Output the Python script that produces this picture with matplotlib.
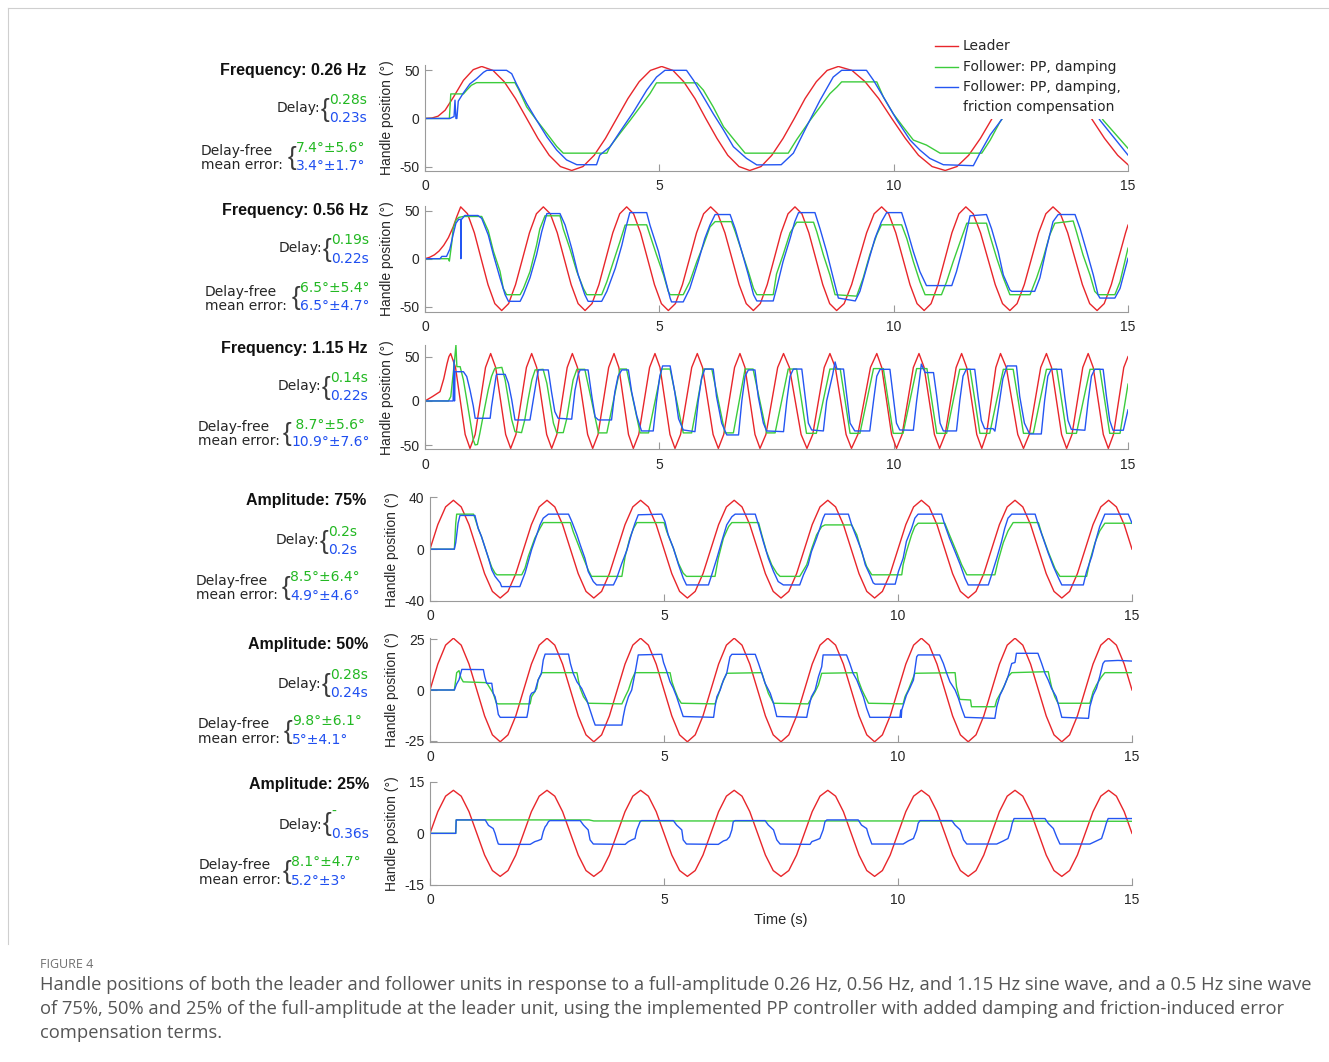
import numpy as np
import matplotlib

matplotlib.use("Agg")
import matplotlib.pyplot as plt
from matplotlib.lines import Line2D
from matplotlib.patches import Rectangle

plt.rcParams["axes.unicode_minus"] = False

W, H = 1329, 1062
RED = "#e8262b"
GREEN = "#3ccc3c"
BLUE = "#2456f2"
TXT_GREEN = "#22b822"
TXT_BLUE = "#1f4ff0"

# ---------------- panel 1 : 0.26 Hz ----------------
P1_LEADER_T = [0, 0.15, 0.28, 0.43, 0.61, 0.82, 1.03, 1.21, 1.45, 1.69, 1.93, 2.17, 2.41, 2.65, 2.89, 3.13,
               3.37, 3.61, 3.85, 4.09, 4.33, 4.57, 4.81, 5.05, 5.29, 5.52, 5.76, 5.99, 6.23, 6.46, 6.70, 6.93,
               7.17, 7.40, 7.64, 7.88, 8.11, 8.35, 8.58, 8.82, 9.11, 9.39, 9.68, 9.96, 10.25, 10.53, 10.82, 11.10,
               11.35, 11.60, 11.85, 12.10, 12.35, 12.60, 12.85, 13.10, 13.38, 13.66, 13.94, 14.22, 14.50, 14.78, 15.0]
P1_LEADER_V = [0, 0.5, 2.4, 8.6, 22.4, 39.6, 50.7, 54, 49.9, 38.2, 20.7, 0, -20.7, -38.2, -49.9, -54,
               -49.9, -38.2, -20.7, 0, 20.7, 38.2, 49.9, 54, 49.9, 38.2, 20.7, 0, -20.7, -38.2, -49.9, -54,
               -49.9, -38.2, -20.7, 0, 20.7, 38.2, 49.9, 54, 49.9, 38.2, 20.7, 0, -20.7, -38.2, -49.9, -54,
               -49.9, -38.2, -20.7, 0, 20.7, 38.2, 49.9, 54, 49.9, 38.2, 20.7, 0, -20.7, -38.2, -48]
P1_GREEN_T = [0, 0.52, 0.55, 0.82, 0.89, 0.99, 1.10, 1.92, 2.00, 2.17, 2.38, 2.60, 2.81, 2.95, 3.88, 3.95,
              4.16, 4.38, 4.59, 4.80, 4.94, 5.80, 5.94, 6.15, 6.37, 6.66, 6.83, 7.75, 7.93, 8.22, 8.43, 8.64,
              8.79, 8.89, 9.64, 9.78, 9.99, 10.20, 10.42, 10.70, 10.99, 11.88, 12.06, 12.27, 12.50, 12.80,
              13.00, 13.90, 14.20, 14.47, 15.0]
P1_GREEN_V = [0, 0, 25.5, 25.5, 29.4, 34.5, 37.2, 37.2, 30, 12, -1.7, -15.5, -29, -36, -36, -29,
              -15.5, -1.7, 12, 25.8, 37, 37, 29.4, 12, -8.6, -26, -36, -36, -22, -1.7, 12, 25.8,
              32.7, 38, 38, 22.4, 5, -8.6, -22.4, -27.6, -36, -36, -22.4, -3.4, 12, 30,
              38, 38, 20, -1.7, -31]
P1_BLUE_T = [0, 0.53, 0.62, 0.64, 0.66, 0.68, 0.71, 0.82, 0.96, 1.10, 1.25, 1.32, 1.74, 1.85, 1.95, 2.17,
             2.38, 2.60, 2.81, 3.02, 3.24, 3.66, 3.73, 3.95, 4.16, 4.45, 4.73, 4.94, 5.12, 5.58, 5.73, 5.94,
             6.15, 6.37, 6.58, 6.86, 7.08, 7.60, 7.86, 8.14, 8.43, 8.71, 8.89, 9.42, 9.57, 9.78, 10.07, 10.35,
             10.56, 10.77, 11.06, 11.70, 11.84, 12.06, 12.27, 12.60, 12.90, 13.10, 13.70, 14.00, 14.40, 15.0]
P1_BLUE_V = [0, 0, 2, 19, 0, 0, 18, 26.6, 36, 41.3, 48, 50, 50, 46.5, 36, 15.5,
             -1.7, -19, -32.8, -43, -48, -48, -38, -29.3, -13.8, 6.9, 29.3, 43, 50, 50, 39.6, 22.4,
             5, -12, -29.3, -41.4, -48.2, -48, -36, -8.6, 19, 43, 50, 50, 39.6, 22.4, -1.7, -22.4,
             -32.8, -41.4, -48, -49, -36, -17, -3.4, 20, 42, 50, 50, 30, -1.7, -38]

# ---------------- panel 2 : 0.56 Hz ----------------
P2_LEADER_T = [0, 0.1, 0.2, 0.3, 0.4, 0.5, 0.6, 0.68, 0.761,
               0.907, 1.053, 1.198, 1.344, 1.490, 1.636, 1.784, 1.932, 2.081, 2.229, 2.377, 2.525,
               2.673, 2.822, 2.970, 3.118, 3.267, 3.415, 3.563, 3.711, 3.859, 4.007, 4.155, 4.303,
               4.451, 4.599, 4.748, 4.896, 5.044, 5.192, 5.343, 5.493, 5.644, 5.794, 5.945, 6.095,
               6.247, 6.399, 6.551, 6.702, 6.854, 7.006, 7.154, 7.302, 7.450, 7.598, 7.746, 7.894,
               8.042, 8.190, 8.339, 8.487, 8.635, 8.783, 8.943, 9.103, 9.263, 9.423, 9.583, 9.743,
               9.894, 10.045, 10.197, 10.348, 10.499, 10.65, 10.798, 10.947, 11.095, 11.243, 11.392, 11.54,
               11.697, 11.853, 12.01, 12.167, 12.323, 12.48, 12.633, 12.787, 12.94, 13.093, 13.247, 13.40,
               13.557, 13.713, 13.87, 14.027, 14.183, 14.34, 14.492, 14.644, 14.796, 14.948, 15.0]
P2_LEADER_V = [0, 1.5, 4, 8, 14, 22, 33, 44, 54,
               46.8, 27, 0, -27, -46.8, -54, -46.8, -27, 0, 27, 46.8, 54,
               46.8, 27, 0, -27, -46.8, -54, -46.8, -27, 0, 27, 46.8, 54,
               46.8, 27, 0, -27, -46.8, -54, -46.8, -27, 0, 27, 46.8, 54,
               46.8, 27, 0, -27, -46.8, -54, -46.8, -27, 0, 27, 46.8, 54,
               46.8, 27, 0, -27, -46.8, -54, -46.8, -27, 0, 27, 46.8, 54,
               46.8, 27, 0, -27, -46.8, -54, -46.8, -27, 0, 27, 46.8, 54,
               46.8, 27, 0, -27, -46.8, -54, -46.8, -27, 0, 27, 46.8, 54,
               46.8, 27, 0, -27, -46.8, -54, -46.8, -27, 0, 27, 35]
P2_GREEN_T = [0, 0.50, 0.52, 0.57, 0.60, 0.66, 0.72, 0.82, 1.21, 1.35, 1.46, 1.60, 1.67, 1.74, 2.03, 2.10,
              2.24, 2.38, 2.45, 2.56, 2.88, 2.95, 3.09, 3.24, 3.38, 3.45, 3.77, 3.88, 4.02, 4.16, 4.27, 4.34,
              4.73, 4.80, 4.94, 5.09, 5.19, 5.23, 5.51, 5.65, 5.80, 5.94, 6.08, 6.19, 6.54, 6.62, 6.76, 6.90,
              7.01, 7.08, 7.43, 7.50, 7.64, 7.79, 7.93, 8.29, 8.36, 8.50, 8.64, 8.75, 9.21, 9.35, 9.49, 9.64,
              9.74, 10.17, 10.28, 10.42, 10.56, 10.67, 11.02, 11.13, 11.27, 11.42, 11.56, 11.98, 12.05, 12.20,
              12.34, 12.48, 12.91, 13.05, 13.19, 13.33, 13.44, 13.83, 13.90, 14.04, 14.19, 14.29, 14.36, 14.72,
              14.83, 15.0]
P2_GREEN_V = [0, 0, -2.5, 16, 31, 40, 43, 44, 44, 29, 7.7, -13, -31, -37.5, -37.5, -31,
              -13.5, 14, 31, 44.7, 44.7, 31, 10.8, -13.5, -31, -37.5, -37.5, -24, -3, 17.8, 35, 35.3,
              35.3, 24.7, 4, -17, -34, -37.5, -37.5, -24, -3, 14, 33, 38.6, 38.6, 28, 7.3, -13.5,
              -31, -37.5, -37.5, -16, 4, 27, 38, 38, 28, 4, -17, -37.5, -39, -20, 4, 25,
              35.3, 35.3, 21, -3, -24, -37.5, -37.5, -24, -3, 17.8, 37, 37, 24.7, 0.4,
              -20, -37.5, -37.5, -20, 0.4, 24.7, 37, 39.3, 28, 4, -17, -34, -37.5, -37.5,
              -24, 11]
P2_BLUE_T = [0, 0.32, 0.36, 0.46, 0.53, 0.60, 0.66, 0.72, 0.76, 0.765, 0.77, 0.78, 0.85, 1.13, 1.21, 1.35,
             1.46, 1.60, 1.71, 1.78, 2.03, 2.10, 2.24, 2.38, 2.49, 2.60, 2.88, 2.99, 3.13, 3.27, 3.41, 3.48,
             3.77, 3.88, 4.06, 4.20, 4.30, 4.37, 4.73, 4.80, 4.98, 5.12, 5.23, 5.26, 5.51, 5.65, 5.83, 5.97,
             6.08, 6.19, 6.51, 6.62, 6.76, 6.90, 7.01, 7.08, 7.43, 7.50, 7.64, 7.79, 7.89, 7.97, 8.32, 8.43,
             8.57, 8.71, 8.82, 9.18, 9.28, 9.46, 9.60, 9.74, 9.85, 10.17, 10.28, 10.42, 10.56, 10.70, 11.24,
             11.34, 11.49, 11.63, 11.98, 12.09, 12.23, 12.34, 12.48, 12.52, 13.01, 13.12, 13.26, 13.40, 13.51,
             13.87, 13.98, 14.12, 14.26, 14.36, 14.40, 14.72, 14.83, 15.0]
P2_BLUE_V = [0, 0, 2.4, 2.4, 10, 25, 37, 41, 41, 0, 41, 41, 45, 45, 42, 24.7,
             4, -20, -37.5, -44.4, -44.4, -37.5, -20, 4, 28, 47, 47, 35, 10.8, -17, -37.5, -44.4,
             -44.4, -34, -10, 14, 35, 48, 48, 35, 7.7, -20, -41, -45, -45, -31, -3, 21,
             35, 46, 46, 31, 7.3, -17, -37.5, -44, -44, -31, -3, 21, 38.6, 48, 48, 31,
             7.3, -20, -41, -44, -34, -3, 21, 38.6, 48, 48, 31, 7.3, -13.5, -28, -28,
             -13.5, 14, 44.7, 46, 31, 7.3, -17, -32.6, -34, -34, -20, 11, 38.6,
             46, 46, 31, 7.3, -17, -37.5, -41, -41, -31, 0.4]

# ---------------- panel 3 : 1.15 Hz ----------------
P3_LEADER_T = [0, 0.16, 0.32, 0.40, 0.47, 0.51, 0.548,
               0.651, 0.754, 0.857, 0.96, 1.070, 1.181, 1.291, 1.401, 1.508, 1.615, 1.721, 1.828,
               1.940, 2.052, 2.164, 2.276, 2.383, 2.490, 2.596, 2.703, 2.813, 2.924, 3.034, 3.144,
               3.253, 3.361, 3.470, 3.578, 3.692, 3.806, 3.919, 4.033, 4.136, 4.239, 4.342, 4.445,
               4.561, 4.676, 4.792, 4.907, 5.014, 5.121, 5.227, 5.334, 5.453, 5.572, 5.691, 5.81,
               5.922, 6.035, 6.147, 6.259, 6.374, 6.490, 6.605, 6.72, 6.827, 6.934, 7.041, 7.148,
               7.274, 7.399, 7.525, 7.65, 7.775, 7.9, 8.025, 8.15, 8.273, 8.395, 8.518, 8.64,
               8.755, 8.87, 8.985, 9.10, 9.235, 9.37, 9.505, 9.64, 9.745, 9.85, 9.955, 10.06,
               10.18, 10.30, 10.42, 10.54, 10.65, 10.76, 10.87, 10.98, 11.098, 11.215, 11.333, 11.45,
               11.558, 11.665, 11.773, 11.88, 11.98, 12.08, 12.18, 12.28, 12.403, 12.525, 12.648, 12.77,
               12.893, 13.015, 13.138, 13.26, 13.368, 13.475, 13.583, 13.69, 13.805, 13.92, 14.035, 14.15,
               14.258, 14.365, 14.473, 14.58, 14.69, 14.8, 14.91, 15.0]
P3_LEADER_V = [0, 5, 10.5, 25, 42, 50, 53.5,
               37.8, 0, -37.8, -53.5, -37.8, 0, 37.8, 53.5, 37.8, 0, -37.8, -53.5,
               -37.8, 0, 37.8, 53.5, 37.8, 0, -37.8, -53.5, -37.8, 0, 37.8, 53.5,
               37.8, 0, -37.8, -53.5, -37.8, 0, 37.8, 53.5, 37.8, 0, -37.8, -53.5,
               -37.8, 0, 37.8, 53.5, 37.8, 0, -37.8, -53.5, -37.8, 0, 37.8, 53.5,
               37.8, 0, -37.8, -53.5, -37.8, 0, 37.8, 53.5, 37.8, 0, -37.8, -53.5,
               -37.8, 0, 37.8, 53.5, 37.8, 0, -37.8, -53.5, -37.8, 0, 37.8, 53.5,
               37.8, 0, -37.8, -53.5, -37.8, 0, 37.8, 53.5, 37.8, 0, -37.8, -53.5,
               -37.8, 0, 37.8, 53.5, 37.8, 0, -37.8, -53.5, -37.8, 0, 37.8, 53.5,
               37.8, 0, -37.8, -53.5, -37.8, 0, 37.8, 53.5, 37.8, 0, -37.8, -53.5,
               -37.8, 0, 37.8, 53.5, 37.8, 0, -37.8, -53.5, -37.8, 0, 37.8, 53.5,
               37.8, 0, -37.8, -53.5, -37.8, 0, 37.8, 50]
P3_GREEN_T = [0, 0.50, 0.55, 0.62, 0.66, 0.68, 0.75, 0.82, 0.89, 0.96, 1.03, 1.07, 1.12, 1.17, 1.28, 1.35,
              1.42, 1.49, 1.64, 1.71, 1.78, 1.85, 1.92, 2.06, 2.13, 2.20, 2.28, 2.35, 2.52, 2.60, 2.67, 2.74,
              2.81, 2.95, 3.02, 3.09, 3.16, 3.24, 3.41,
              3.555, 3.70, 3.88, 4.02, 4.16, 4.30, 4.445, 4.59, 4.77, 4.91, 5.05, 5.23,
              5.37, 5.51, 5.69, 5.815, 5.94, 6.12, 6.26, 6.40, 6.58, 6.705, 6.83, 7.0,
              7.145, 7.29, 7.47, 7.61, 7.75, 7.93, 8.035, 8.14, 8.35, 8.495, 8.64, 8.86,
              8.965, 9.07, 9.28, 9.425, 9.57, 9.78, 9.885, 9.99, 10.2, 10.345, 10.49, 10.71,
              10.815, 10.92, 11.13, 11.27, 11.41, 11.63, 11.735, 11.84, 12.05, 12.195, 12.34, 12.55,
              12.66, 12.77, 12.98, 13.12, 13.26, 13.48, 13.585, 13.69, 13.9, 14.045, 14.19, 14.4,
              14.505, 14.61, 14.83, 15.0]
P3_GREEN_V = [0, 0, 5, 40, 63, 38.7, 38.7, 23.7, 1.5, -21, -44, -49.6, -49, -36.5, -6, 12.8,
              27.8, 36.8, 37.9, 23.7, 1.5, -21, -34.6, -35.7, -21, 1.5, 23.7, 35, 35.7, 20, -2.6, -25,
              -35.7, -35.7, -21, 1.5, 23.7, 35.7, 35.7,
              0, -36, -36, 0, 36, 36, 0, -36, -36, 0, 36, 36,
              0, -36, -36, 0, 36, 36, 0, -36, -36, 0, 36, 36,
              0, -36, -36, 0, 36, 36, 0, -36.5, -36.5, 0, 36, 36,
              0, -36.5, -36.5, 0, 36.5, 36.5, 0, -36.5, -36.5, 0, 36.5, 36.5,
              0, -36.5, -36.5, 0, 35.7, 35.7, 0, -36.5, -36.5, 0, 35.7, 35.7,
              0, -36.5, -36.5, 0, 35.7, 35.7, 0, -36.5, -36.5, 0, 35.7, 35.7,
              0, -36.5, -36.5, 19]
P3_BLUE_T = [0, 0.60, 0.62, 0.63, 0.64, 0.67, 0.82, 0.89, 0.96, 1.03, 1.07, 1.39,
             1.42, 1.52, 1.53, 1.71, 1.78, 1.85, 1.92, 2.24,
             2.31, 2.38, 2.42, 2.63, 2.70, 2.77, 2.84, 3.13,
             3.20, 3.27, 3.31, 3.48, 3.56, 3.63, 3.70, 3.98,
             4.05, 4.12, 4.20, 4.34, 4.41, 4.52, 4.62, 4.87,
             4.94, 5.01, 5.07, 5.23, 5.33, 5.41, 5.51, 5.76,
             5.83, 5.90, 5.97, 6.15, 6.22, 6.33, 6.44, 6.69,
             6.76, 6.83, 6.90, 7.04, 7.11, 7.22, 7.29, 7.65,
             7.72, 7.79, 7.86, 8.04, 8.11, 8.18, 8.25, 8.50,
             8.57, 8.70, 8.75, 8.79, 8.93, 9.00, 9.07, 9.17, 9.49,
             9.57, 9.64, 9.71, 9.92, 9.99, 10.06, 10.13, 10.42,
             10.49, 10.56, 10.59, 10.67, 10.85, 10.92, 10.99, 11.06, 11.34,
             11.41, 11.48, 11.55, 11.73, 11.80, 11.87, 11.94, 12.12, 12.16,
             12.26, 12.33, 12.42, 12.62, 12.69, 12.79, 12.90, 13.15,
             13.22, 13.29, 13.36, 13.58, 13.65, 13.72, 13.79, 14.08,
             14.15, 14.22, 14.29, 14.47, 14.54, 14.61, 14.68, 14.90, 15.0]
P3_BLUE_V = [0, 0, 46, 0, 33, 33, 33, 27.6, 12.4, -5.6, -19.5, -19.5,
             -6, 29, 30, 30, 20, 1.5, -21.4, -21.4,
             1.5, 23.7, 35, 35, 10, -12, -19.5, -20.5,
             12, 30, 35, 35, 5, -18, -21.4, -21.4,
             10, 28, 35, 35, 10, -17, -33.8, -33.8,
             0, 28, 39.5, 39.5, 10, -20, -32.7, -34.6,
             0, 25, 36, 36, 5, -25, -38.3, -38.3,
             0, 28, 35, 35, 5, -25, -33.8, -34.6,
             0, 28, 36, 36, 5, -25, -32.7, -33.8,
             0, 30, 44, 36, 36, 5, -25, -33.8, -33.8,
             0, 28, 35.7, 35.7, 5, -25, -32.7, -33,
             0, 28, 41.6, 32, 32, 5, -25, -33.8, -33.8,
             0, 28, 35.7, 35.7, 5, -22, -31.2, -31.2, -34,
             0, 25, 39.5, 39.5, 5, -25, -37.2, -37.2,
             0, 28, 35.7, 35.7, 5, -22, -32, -33,
             0, 28, 35.7, 35.7, 5, -22, -33, -33, -10]

# ---------------- panel 4 : 75 % ----------------
P4_LEADER_V = [0, 18.9, 32.6, 37.7, 32.6, 18.9, 0, -18.9, -32.6, -37.7, -32.6, -18.9,
               0, 18.9, 32.6, 37.7, 32.6, 18.9, 0, -18.9, -32.6, -37.7, -32.6, -18.9,
               0, 18.9, 32.6, 37.7, 32.6, 18.9, 0, -18.9, -32.6, -37.7, -32.6, -18.9,
               0, 18.9, 32.6, 37.7, 32.6, 18.9, 0, -18.9, -32.6, -37.7, -32.6, -18.9,
               0, 18.9, 32.6, 37.7, 32.6, 18.9, 0, -18.9, -32.6, -37.7, -32.6, -18.9,
               0, 18.9, 32.6, 37.7, 32.6, 18.9, 0, -18.9, -32.6, -37.7, -32.6, -18.9,
               0, 18.9, 32.6, 37.7, 32.6, 18.9, 0, -18.9, -32.6, -37.7, -32.6, -18.9,
               0, 18.9, 32.6, 37.7, 32.6, 18.9, 0]
P4_GREEN_T = [0, 0.52, 0.55, 0.57, 0.93, 0.96, 1.03, 1.10, 1.18, 1.25, 1.32, 1.39, 1.43, 1.96, 2.03, 2.10,
              2.24, 2.35, 2.42, 3.00, 3.06, 3.17, 3.28, 3.38, 3.45, 4.10, 4.17, 4.27, 4.35, 4.42, 5.00, 5.06,
              5.20, 5.31, 5.41, 5.48, 6.09, 6.16, 6.27, 6.38, 6.45, 7.02, 7.09, 7.19, 7.30, 7.41, 7.48, 7.90,
              8.05, 8.16, 8.26, 8.37, 8.44, 9.01, 9.12, 9.23, 9.33, 9.44, 10.08, 10.11, 10.18, 10.29, 10.36,
              10.43, 11.00, 11.10, 11.25, 11.36, 11.47, 12.07, 12.14, 12.25, 12.35, 12.46, 13.00, 13.07, 13.21,
              13.36, 13.46, 14.03, 14.10, 14.21, 14.31, 14.42, 14.99]
P4_GREEN_V = [0, 0, 20, 27, 27, 24, 16, 9.7, 0.8, -7, -14, -18.5, -19.8, -19.8, -14.6, -5.6,
              8.5, 16.1, 20.5, 20.5, 13.5, 3.3, -7, -16, -21, -21, -5.6, 8.5, 16.1, 20.5, 20.5, 13.5,
              0.8, -11, -18.5, -21, -21, -7, 8.5, 17.4, 20.5, 20.5, 11, -1.8, -12, -18.5, -21, -21,
              -12, 0.8, 11, 17.4, 18.7, 18.7, 11, -3, -13.4, -19.8, -19.8, -12, -2, 11, 17.4,
              20, 20, 11, -2, -12, -19.8, -19.8, -9, 5, 14, 20.5, 20.5, 12, -2,
              -15.4, -21, -21, -9, 5, 14, 20, 20]
P4_BLUE_T = [0, 0.52, 0.55, 0.60, 0.64, 0.96, 1.03, 1.10, 1.18, 1.25, 1.32, 1.39, 1.50, 1.53, 1.92, 1.96,
             2.03, 2.10, 2.17, 2.28, 2.35, 2.42, 2.53, 2.96, 3.03, 3.14, 3.21, 3.31, 3.38, 3.49, 3.56, 3.92,
             3.99, 4.10, 4.21, 4.31, 4.38, 4.45, 4.95, 5.02, 5.09, 5.20, 5.31, 5.41, 5.48, 5.95, 6.02, 6.13,
             6.23, 6.34, 6.45, 6.52, 6.95, 7.02, 7.12, 7.23, 7.34, 7.44, 7.55, 7.90, 7.98, 8.08, 8.15, 8.26,
             8.33, 8.40, 8.44, 8.94, 9.01, 9.12, 9.23, 9.30, 9.40, 9.47, 9.51, 9.94, 10.01, 10.11, 10.18,
             10.29, 10.36, 10.43, 10.93, 11.00, 11.10, 11.22, 11.33, 11.43, 11.50, 11.93, 12.00, 12.11,
             12.21, 12.28, 12.35, 12.43, 12.93, 13.00, 13.10, 13.21, 13.32, 13.43, 13.50, 13.96, 14.03,
             14.14, 14.24, 14.31, 14.42, 14.92, 15.0]
P4_BLUE_V = [0, 0, 5, 20, 26, 26, 16, 9.7, 0.8, -7, -16, -21, -26, -28.9, -28.9, -25,
             -18.5, -9.6, -0.5, 11, 18.7, 23.9, 27, 27, 21.3, 11, 3.3, -7, -17.2, -25, -27.6, -27.6,
             -22.3, -10.8, -0.5, 12.3, 20, 26.5, 27, 21.3, 11, 0.8, -12, -22.3, -27.6, -27.6, -19.8, -7,
             5.5, 18.7, 25, 27, 27, 18.7, 6, -7, -17.2, -25, -27.6, -27.6, -19.8, -12, -2, 8.5,
             16, 23.9, 27, 27, 18.7, 8.5, -2, -12, -19.8, -26, -27, -27, -17.2, -7, 6,
             16, 23.9, 27, 27, 18.7, 8.5, -2, -12, -22.3, -27.6, -27.6, -19.8, -7,
             5.5, 16, 23.9, 27, 27, 18.7, 8.5, -3, -13.4, -22.3, -27.6, -27.6, -17.2,
             -5.6, 8.5, 17.4, 27, 27, 20]

# ---------------- panel 5 : 50 % ----------------
P5_LEADER_V = [0, 12.7, 22, 25.4, 22, 12.7, 0, -12.7, -22, -25.4, -22, -12.7,
               0, 12.7, 22, 25.4, 22, 12.7, 0, -12.7, -22, -25.4, -22, -12.7,
               0, 12.7, 22, 25.4, 22, 12.7, 0, -12.7, -22, -25.4, -22, -12.7,
               0, 12.7, 22, 25.4, 22, 12.7, 0, -12.7, -22, -25.4, -22, -12.7,
               0, 12.7, 22, 25.4, 22, 12.7, 0, -12.7, -22, -25.4, -22, -12.7,
               0, 12.7, 22, 25.4, 22, 12.7, 0, -12.7, -22, -25.4, -22, -12.7,
               0, 12.7, 22, 25.4, 22, 12.7, 0, -12.7, -22, -25.4, -22, -12.7,
               0, 12.7, 22, 25.4, 22, 12.7, 0]
P5_GREEN_T = [0, 0.52, 0.57, 0.62, 0.66, 0.71, 1.21, 1.35, 1.42, 1.46, 2.14, 2.17, 2.24, 2.28, 2.31, 2.39,
              3.14, 3.17, 3.21, 3.28, 3.38, 4.10, 4.17, 4.24, 4.31, 4.38, 5.13, 5.17, 5.23, 5.30, 5.37, 6.09,
              6.16, 6.23, 6.34, 7.09, 7.16, 7.23, 7.34, 8.08, 8.15, 8.23, 8.30, 8.37, 9.12, 9.15, 9.23, 9.30,
              9.37, 10.11, 10.15, 10.22, 10.29, 10.36, 11.22, 11.25, 11.32, 11.55, 11.57, 12.07, 12.11, 12.21,
              12.28, 12.35, 12.43, 13.21, 13.28, 13.35, 13.42, 14.10, 14.17, 14.24, 14.35, 14.42, 14.99]
P5_GREEN_V = [0, 0, 8.5, 9.5, 6, 4, 3.6, -1.6, -6.5, -6.8, -6.8, -3.3, -0.8, 0.8, 4.9, 8.5,
              8.5, 4.9, 0.8, -3.3, -6.5, -6.8, -3.3, 0, 4.9, 8.5, 8.5, 4, 0, -4, -6.5, -6.8,
              -2.5, 2.5, 8.2, 8.5, 3.3, -1.6, -6.5, -6.8, -4, -0.8, 2.5, 8.2, 8.5, 4.9, 0, -3.3,
              -6.5, -6.8, -3.3, 0, 4, 8.2, 8.5, 1.6, -4.6, -4.9, -8.2, -8.2, -4.9, -0.8,
              2.5, 6.5, 8.5, 9, 1.6, -3.3, -6.5, -6.5, -0.8, 2.5, 6.5, 8.5, 8.5]
P5_BLUE_T = [0, 0.52, 0.57, 0.62, 0.68, 1.14, 1.17, 1.21, 1.32, 1.35, 1.39, 1.42, 1.46, 1.50, 2.07, 2.10,
             2.14, 2.17, 2.24, 2.31, 2.38, 2.42, 2.46, 2.96, 3.00, 3.06, 3.14, 3.24, 3.35, 3.42, 3.49, 3.53,
             4.10, 4.13, 4.17, 4.24, 4.31, 4.38, 4.45, 4.95, 4.99, 5.06, 5.13, 5.20, 5.27, 5.34, 5.41, 6.06,
             6.09, 6.13, 6.20, 6.27, 6.34, 6.41, 6.45, 6.95, 7.02, 7.09, 7.16, 7.27, 7.34, 7.41, 8.05, 8.08,
             8.15, 8.23, 8.30, 8.37, 8.40, 8.90, 8.97, 9.04, 9.12, 9.19, 9.26, 9.33, 9.40, 10.04, 10.06,
             10.07, 10.08, 10.18, 10.25, 10.33, 10.40, 10.43, 10.89, 10.97, 11.04, 11.11, 11.22, 11.29,
             11.36, 11.43, 12.07, 12.11, 12.18, 12.25, 12.35, 12.43, 12.50, 12.53, 12.99, 13.07, 13.14,
             13.21, 13.28, 13.38, 13.45, 13.50, 14.07, 14.10, 14.17, 14.24, 14.31, 14.38, 14.42, 14.70, 14.99]
P5_BLUE_V = [0, 0, 3, 5, 10.1, 10, 6.5, 3.3, 3.3, -1.6, -3.3, -6.5, -12, -13.4, -13.4, -9.8,
             -3, -1.6, -0.8, 4.9, 8.2, 14.7, 17.6, 17.6, 13, 8.2, 4, 0.8, -4.9, -9.8, -14.7, -17.2,
             -17.2, -13, -8.5, -3.3, 0, 8.2, 17.2, 17.5, 13.5, 9, 4, 0.8, -3.3, -8.2, -13, -13.4,
             -8.2, -3.3, 0, 4.9, 8.2, 16.3, 17.5, 17.5, 13, 8.2, 3.3, -1.6, -6.5, -13, -13.4, -9.8,
             -3.3, 0, 6.5, 11.4, 17.2, 17.2, 13, 8.2, 4.9, 0.8, -3.3, -9, -13.4, -13.4, -9.8,
             -13.4, -9.8, -2.5, 0.8, 4.9, 16.3, 17.2, 17.2, 13, 8.2, 4, 0, -4,
             -9, -13.4, -13.9, -8.2, -2.5, 0.8, 6.5, 13, 13.5, 18, 18, 13, 8.2,
             4.9, 0.8, -3.3, -9, -13.4, -13.9, -8.2, -2.5, 0.8, 6.5, 13, 14.2, 14.5, 14.2]

# ---------------- panel 6 : 25 % ----------------
P6_LEADER_V = [0, 6.3, 10.8, 12.5, 10.8, 6.3, 0, -6.3, -10.8, -12.5, -10.8, -6.3,
               0, 6.3, 10.8, 12.5, 10.8, 6.3, 0, -6.3, -10.8, -12.5, -10.8, -6.3,
               0, 6.3, 10.8, 12.5, 10.8, 6.3, 0, -6.3, -10.8, -12.5, -10.8, -6.3,
               0, 6.3, 10.8, 12.5, 10.8, 6.3, 0, -6.3, -10.8, -12.5, -10.8, -6.3,
               0, 6.3, 10.8, 12.5, 10.8, 6.3, 0, -6.3, -10.8, -12.5, -10.8, -6.3,
               0, 6.3, 10.8, 12.5, 10.8, 6.3, 0, -6.3, -10.8, -12.5, -10.8, -6.3,
               0, 6.3, 10.8, 12.5, 10.8, 6.3, 0, -6.3, -10.8, -12.5, -10.8, -6.3,
               0, 6.3, 10.8, 12.5, 10.8, 6.3, 0]
P6_GREEN_T = [0, 0.55, 0.56, 3.40, 3.50, 10.0, 15.0]
P6_GREEN_V = [0, 0, 3.9, 3.9, 3.6, 3.6, 3.5]
P6_BLUE_T = [0, 0.55, 0.56, 1.18, 1.25, 1.35, 1.39, 1.43, 1.46, 1.50, 2.14, 2.24, 2.31, 2.38, 2.42, 2.46,
             2.49, 2.53, 2.56, 3.21, 3.28, 3.38, 3.42, 3.49, 4.17, 4.24, 4.31, 4.38, 4.42, 4.49, 4.52, 5.20,
             5.27, 5.38, 5.41, 5.48, 6.16, 6.27, 6.34, 6.40, 6.45, 6.48, 6.52, 7.16, 7.23, 7.34, 7.41, 7.48,
             8.12, 8.16, 8.26, 8.33, 8.40, 8.44, 8.48, 9.15, 9.22, 9.33, 9.37, 9.44, 10.11, 10.22, 10.33,
             10.40, 10.43, 10.47, 11.15, 11.22, 11.33, 11.40, 11.47, 12.11, 12.25, 12.35, 12.41, 12.44,
             12.48, 13.14, 13.21, 13.32, 13.39, 13.46, 14.10, 14.24, 14.35, 14.41, 14.45, 14.49, 14.99]
P6_BLUE_V = [0, 0, 3.9, 3.9, 2.3, 1.4, 0, -1.9, -3.1, -3.2, -3.2, -2.4, -2.1, -1.7, 0.5, 1.9,
             2.4, 3.4, 3.7, 3.7, 2.4, 1.0, -1.9, -3.1, -3.2, -2.4, -1.9, -1.5, 1.0, 3.4, 3.7, 3.7,
             2.4, 1.0, -1.9, -3.1, -3.2, -2.2, -1.9, -1.0, 1.0, 3.4, 3.7, 3.7, 2.4, 1.0, -1.9, -3.1,
             -3.2, -2.4, -1.9, -1.5, 1.0, 3.4, 3.9, 3.9, 2.4, 1.4, -0.5, -3.1, -3.1, -2.2, -1.5,
             1.0, 2.9, 3.7, 3.7, 2.4, 1.0, -1.9, -3.1, -3.1, -2.2, -1.5, 1.0, 2.9,
             4.3, 4.3, 2.9, 1.4, -1.0, -3.1, -3.1, -2.2, -1.5, 1.0, 2.9, 4.3, 4.3]

# ---------------- labels ----------------
PANEL_TITLES = ["Frequency: 0.26 Hz", "Frequency: 0.56 Hz", "Frequency: 1.15 Hz",
                "Amplitude: 75%", "Amplitude: 50%", "Amplitude: 25%"]
DELAY_GREEN = ["0.28s", "0.19s", "0.14s", "0.2s", "0.28s", "-"]
DELAY_BLUE = ["0.23s", "0.22s", "0.22s", "0.2s", "0.24s", "0.36s"]
ERR_GREEN = ["7.4°±5.6°", "6.5°±5.4°", " 8.7°±5.6°", "8.5°±6.4°", "9.8°±6.1°", "8.1°±4.7°"]
ERR_BLUE = ["3.4°±1.7°", "6.5°±4.7°", "10.9°±7.6°", "4.9°±4.6°", "5°±4.1°", "5.2°±3°"]
Y_TICKS = [[-50, 0, 50], [-50, 0, 50], [-50, 0, 50], [-40, 0, 40], [-25, 0, 25], [-15, 0, 15]]
X_TICKS = [0, 5, 10, 15]
LEGEND_LABELS = ["Leader", "Follower: PP, damping", "Follower: PP, damping,", "friction compensation"]
CAPTION = ["Handle positions of both the leader and follower units in response to a full-amplitude 0.26 Hz, "
           "0.56 Hz, and 1.15 Hz sine wave, and a 0.5 Hz sine wave",
           "of 75%, 50% and 25% of the full-amplitude at the leader unit, using the implemented PP controller "
           "with added damping and friction-induced error",
           "compensation terms."]

# axes boxes in pixels: left, right, top, bottom, ylim
AX_BOX = [(425, 1128, 65.5, 170.5, (-54, 55)),
          (425, 1128, 205.9, 311.5, (-55, 55)),
          (425, 1128, 345.1, 449.3, (-54.5, 63)),
          (430, 1132, 497.3, 601.0, (-40, 40)),
          (430, 1132, 638.0, 742.0, (-25.5, 25.5)),
          (430, 1132, 781.7, 885.0, (-15, 15))]
# text layout per panel (pixels): title_y, title_right, delay_y, delay_right, dval_x, dg_y, db_y,
# df_x, df_y, me_y, eval_x, eg_y, eb_y
TEXT_POS = [(71, 366, 108, 320, 329, 100, 118, 201, 151, 165, 296, 148, 166),
            (211, 369, 248, 322, 331, 240, 259, 205, 292, 306, 300, 288, 306),
            (348, 368, 386, 321, 330, 378, 396, 198, 427, 441, 291, 425, 442),
            (500, 366, 540, 319, 328, 532, 550, 196, 581, 595, 290, 577, 596),
            (644, 368, 684, 321, 330, 675, 693, 198, 724, 739, 292, 721, 740),
            (785, 369, 825, 322, 331, 812, 834, 199, 865, 880, 291, 862, 881)]


def fx(x):
    return x / W


def fy(y):
    return 1 - y / H


def main():
    fig = plt.figure(figsize=(W / 100, H / 100), dpi=100)
    t_grid = np.linspace(0, 15, 91)
    curves = [
        ((P1_LEADER_T, P1_LEADER_V), (P1_GREEN_T, P1_GREEN_V), (P1_BLUE_T, P1_BLUE_V)),
        ((P2_LEADER_T, P2_LEADER_V), (P2_GREEN_T, P2_GREEN_V), (P2_BLUE_T, P2_BLUE_V)),
        ((P3_LEADER_T, P3_LEADER_V), (P3_GREEN_T, P3_GREEN_V), (P3_BLUE_T, P3_BLUE_V)),
        ((t_grid, P4_LEADER_V), (P4_GREEN_T, P4_GREEN_V), (P4_BLUE_T, P4_BLUE_V)),
        ((t_grid, P5_LEADER_V), (P5_GREEN_T, P5_GREEN_V), (P5_BLUE_T, P5_BLUE_V)),
        ((t_grid, P6_LEADER_V), (P6_GREEN_T, P6_GREEN_V), (P6_BLUE_T, P6_BLUE_V)),
    ]

    axes = []
    for i, (left, right, top, bottom, ylim) in enumerate(AX_BOX):
        ax = fig.add_axes([fx(left), fy(bottom), (right - left) / W, (bottom - top) / H])
        lead, green, blue = curves[i]
        ax.plot(lead[0], lead[1], color=RED, lw=1.0)
        ax.plot(green[0], green[1], color=GREEN, lw=1.0)
        ax.plot(blue[0], blue[1], color=BLUE, lw=1.0)
        ax.set_xlim(0, 15)
        ax.set_ylim(*ylim)
        ax.set_xticks(X_TICKS)
        ax.set_yticks(Y_TICKS[i])
        ax.spines["top"].set_visible(False)
        ax.spines["right"].set_visible(False)
        for s in ("left", "bottom"):
            ax.spines[s].set_color("#9a9a9a")
            ax.spines[s].set_linewidth(0.8)
        ax.tick_params(direction="in", length=5, width=0.8, color="#9a9a9a",
                       labelsize=10, labelcolor="#262626", pad=4)
        ax.tick_params(axis="x", pad=6)
        for lab in ax.get_xticklabels() + ax.get_yticklabels():
            lab.set_fontfamily("Liberation Sans")
        ax.set_ylabel("Handle position (°)", fontsize=10, family="Liberation Sans", color="#262626")
        ax.yaxis.set_label_coords(-0.044, 0.5)
        ax.patch.set_alpha(0)
        axes.append(ax)

    axes[-1].set_xlabel("Time (s)", fontsize=10.5, family="Liberation Sans", color="#262626", labelpad=4)

    # legend drawn over panel 1 with an opaque white box
    fig.add_artist(Rectangle((fx(928), fy(119)), (1140 - 928) / W, (119 - 30) / H,
                             transform=fig.transFigure, facecolor="white", edgecolor="none", zorder=1))
    for y, c in zip([46, 67, 87], [RED, GREEN, BLUE]):
        fig.add_artist(Line2D([fx(935), fx(958)], [fy(y), fy(y)], color=c, lw=1.0,
                              transform=fig.transFigure, zorder=2))
    for y, lab in zip([46, 67, 87, 107], LEGEND_LABELS):
        fig.text(fx(963), fy(y), lab, fontsize=10, family="DejaVu Sans", color="#262626",
                 va="center", ha="left", zorder=3)

    # left-hand annotations
    for i, pos in enumerate(TEXT_POS):
        (ty, tr, dy, dr, dvx, dgy, dby, dfx, dfy, mey, evx, egy, eby) = pos
        fig.text(fx(tr), fy(ty), PANEL_TITLES[i], fontsize=11.5, fontweight="bold",
                 family="Liberation Sans", ha="right", va="center", color="#111111")
        fig.text(fx(dr), fy(dy), "Delay:", fontsize=10, family="DejaVu Sans", ha="right",
                 va="center", color="#262626")
        fig.text(fx(dvx), fy((dgy + dby) / 2 + 1), "{", fontsize=19, family="Liberation Sans",
                 ha="right", va="center", color="#3a3a3a")
        fig.text(fx(dvx), fy(dgy), DELAY_GREEN[i], fontsize=10, family="DejaVu Sans",
                 ha="left", va="center", color=TXT_GREEN)
        fig.text(fx(dvx), fy(dby), DELAY_BLUE[i], fontsize=10, family="DejaVu Sans",
                 ha="left", va="center", color=TXT_BLUE)
        fig.text(fx(dfx), fy(dfy), "Delay-free", fontsize=10, family="DejaVu Sans",
                 ha="left", va="center", color="#262626")
        fig.text(fx(dfx), fy(mey), "mean error:", fontsize=10, family="DejaVu Sans",
                 ha="left", va="center", color="#262626")
        fig.text(fx(evx), fy((egy + eby) / 2 + 1), "{", fontsize=19, family="Liberation Sans",
                 ha="right", va="center", color="#3a3a3a")
        fig.text(fx(evx), fy(egy), ERR_GREEN[i], fontsize=10, family="DejaVu Sans",
                 ha="left", va="center", color=TXT_GREEN)
        fig.text(fx(evx), fy(eby), ERR_BLUE[i], fontsize=10, family="DejaVu Sans",
                 ha="left", va="center", color=TXT_BLUE)

    # page frame and caption
    fig.add_artist(Line2D([fx(8), fx(8)], [fy(8), fy(944)], color="#cfcfcf", lw=0.8,
                          transform=fig.transFigure))
    fig.add_artist(Line2D([fx(8), fx(1329)], [fy(8), fy(8)], color="#cfcfcf", lw=0.8,
                          transform=fig.transFigure))
    fig.text(fx(40), fy(965), "FIGURE 4", fontsize=9, family="Open Sans", color="#6f6f6f",
             ha="left", va="center")
    for k, line in enumerate(CAPTION):
        fig.text(fx(40), fy(985 + 24 * k), line, fontsize=13.2, family="Open Sans",
                 color="#555555", ha="left", va="center")

    fig.savefig("out.png", dpi=100, facecolor="white")
    plt.close(fig)


if __name__ == "__main__":
    main()
